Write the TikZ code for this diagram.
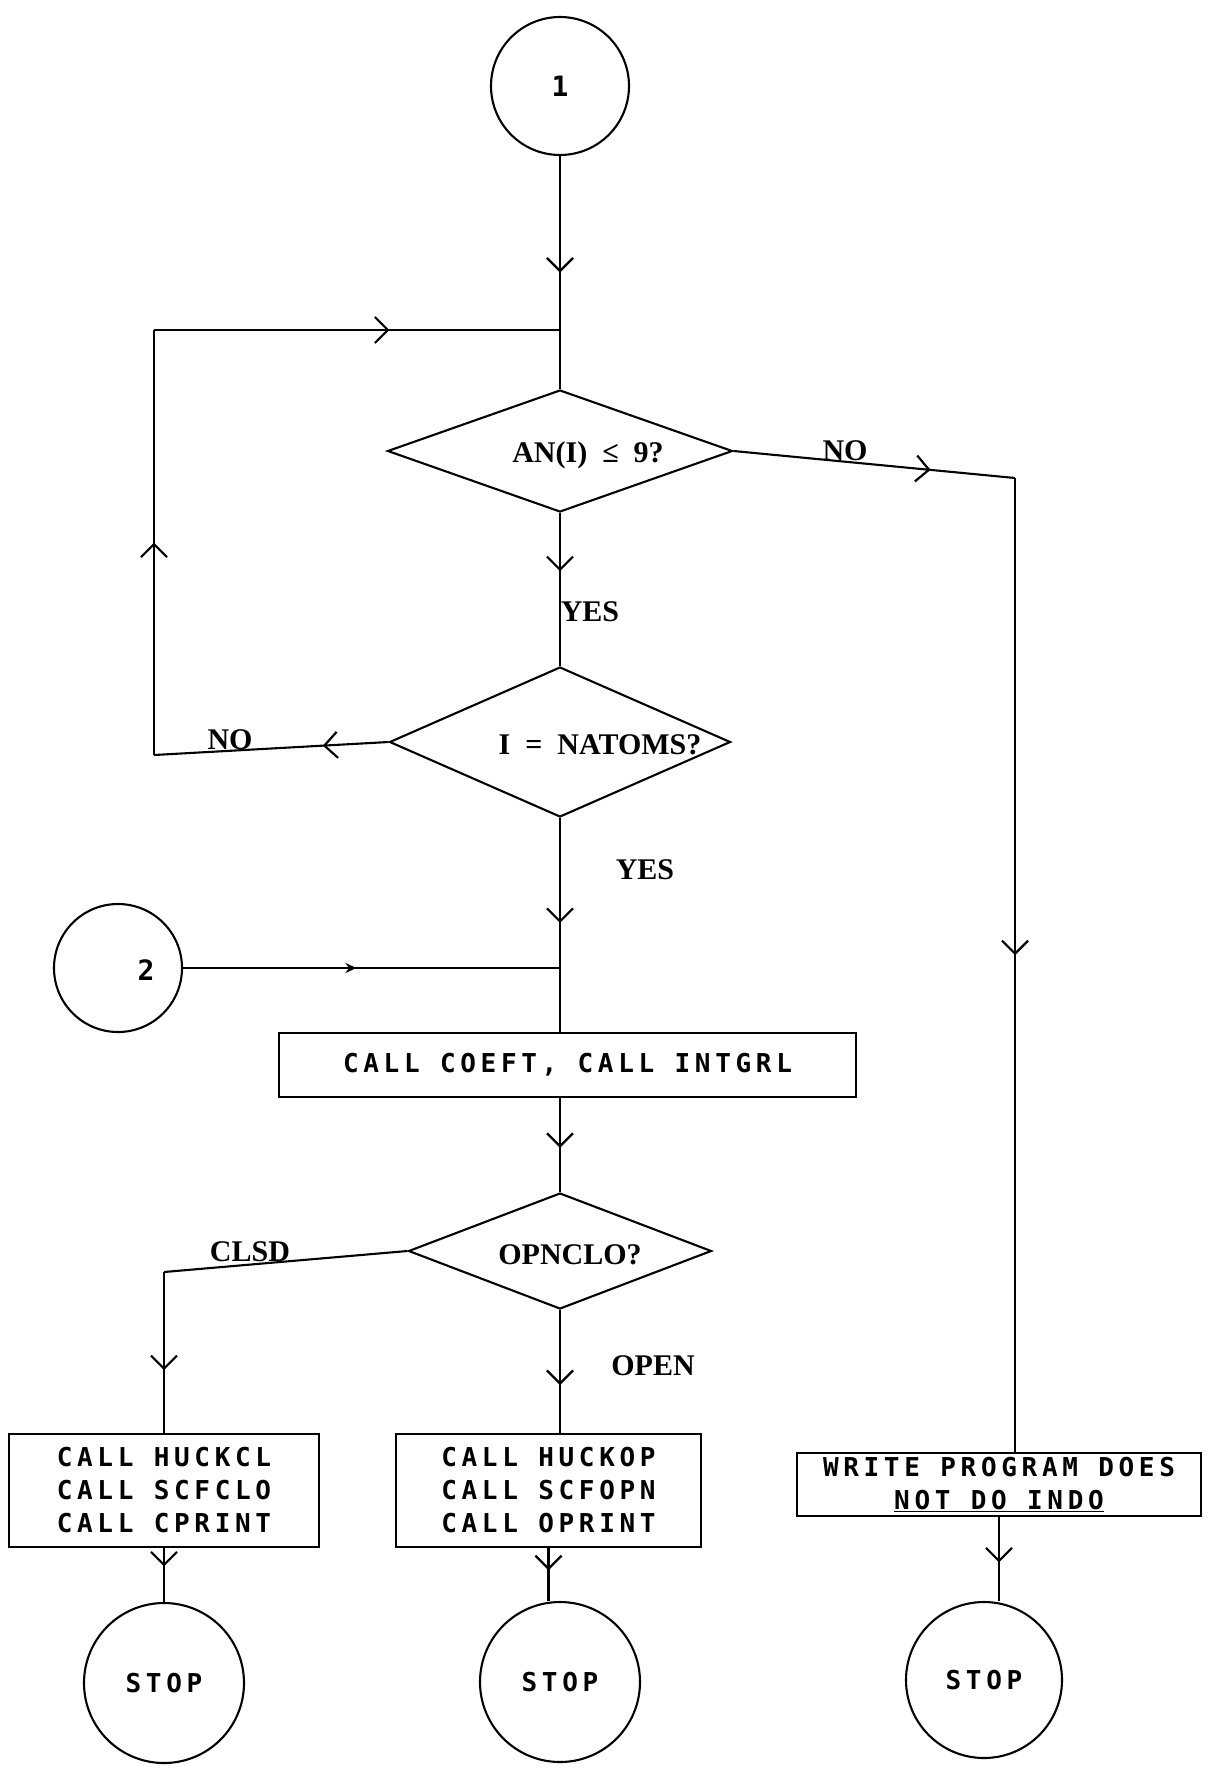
\documentclass[tikz,border=0pt]{standalone}
\usepackage{fontspec}
\usetikzlibrary{shapes.geometric,arrows.meta,decorations.markings}
\newfontfamily\labfont{Liberation Serif}
\newfontfamily\plotfont[LetterSpace=18]{DejaVu Sans Mono}
\tikzset{
  dia/.style={draw, diamond, inner sep=0pt, aspect=3},
  circ/.style={draw, circle, inner sep=0pt, font={\plotfont\bfseries\fontsize{26}{30}\selectfont}},
  ptext/.style={inner sep=0pt, font={\plotfont\bfseries\fontsize{28}{30}\selectfont}},
  pbox/.style={draw, rectangle, inner sep=0pt, align=center, font={\plotfont\bfseries\fontsize{26}{33}\selectfont}},
  lab/.style={inner sep=0pt, font={\labfont\bfseries\fontsize{30}{34}\selectfont}},
  midarrow/.style={postaction={decorate}, decoration={markings, mark=at position #1 with {\arrow{Straight Barb[length=13pt,width=26pt,line width=2.2pt]}}}},
  smallarrow/.style={postaction={decorate}, decoration={markings, mark=at position #1 with {\arrow{Stealth[length=11pt,width=10pt]}}}}
}
\begin{document}
\begin{tikzpicture}[x=1pt, y=-1pt, line width=2.1pt]
\fill[white] (0,0) rectangle (1208,1773);
\useasboundingbox (0,0) rectangle (1208,1773);

% nodes
\node[circ, minimum size=138pt, font={\plotfont\bfseries\fontsize{28}{30}\selectfont}] (c1) at (560,86) {1};
\node[dia, minimum width=345pt, minimum height=122pt] (d1) at (560,451) {};
\node[lab] (d1t) at (588,455) {AN(I)\enspace≤\enspace9?};
\node[dia, minimum width=341pt, minimum height=150pt] (d2) at (560,742) {};
\node[lab] (d2t) at (600,745) {I\enspace=\enspace NATOMS?};
\node[circ, minimum size=128pt] (c2) at (118,968) {};
\node[ptext] (c2t) at (146,970) {2};
\node[pbox, minimum width=577pt, minimum height=64pt] (b1) at (567.5,1065) {CALL COEFT, CALL INTGRL};
\node[dia, minimum width=303pt, minimum height=116pt] (d3) at (560,1251) {};
\node[lab] (d3t) at (570,1255) {OPNCLO?};
\node[pbox, minimum width=310pt, minimum height=113pt] (lb) at (164,1490.5) {CALL HUCKCL\\CALL SCFCLO\\CALL CPRINT};
\node[pbox, minimum width=305pt, minimum height=113pt] (mb) at (548.5,1490.5) {CALL HUCKOP\\CALL SCFOPN\\CALL OPRINT};
\node[pbox, minimum width=404pt, minimum height=63pt] (wb) at (999,1484.5) {WRITE PROGRAM DOES\\\underline{NOT DO INDO}};
\node[circ, minimum size=160pt] (s1) at (164,1683) {STOP};
\node[circ, minimum size=160pt] (s2) at (560,1682) {STOP};
\node[circ, minimum size=156pt] (s3) at (984,1680) {STOP};

% labels
\node[lab] (no1) at (845,451) {NO};
\node[lab] (yes1) at (590,612) {YES};
\node[lab] (no2) at (230,740) {NO};
\node[lab] (yes2) at (645,870) {YES};
\node[lab] (clsd) at (250,1252) {CLSD};
\node[lab] (open) at (653,1366) {OPEN};

% coordinates
\coordinate (lc1) at (154,755);
\coordinate (lc2) at (154,330);
\coordinate (jt) at (560,330);
\coordinate (rc) at (1015,478);
\coordinate (j2) at (560,968);
\coordinate (cl) at (164,1272);

% connectors
\draw[midarrow=0.5] (c1.south) -- (d1.north);
\draw[midarrow=0.28] (d2.west) -- (lc1);
\draw[midarrow=0.5] (lc1) -- (lc2);
\draw[midarrow=0.58] (lc2) -- (jt);
\draw[midarrow=0.70] (d1.east) -- (rc);
\draw[midarrow=0.49] (rc) -- (rc |- wb.north);
\draw[midarrow=0.38] (d1.south) -- (d2.north);
\draw[midarrow=0.49] (d2.south) -- (d2.south |- b1.north);
\draw[smallarrow=0.46] (c2.east) -- (j2);
\draw[midarrow=0.53] (d3.north |- b1.south) -- (d3.north);
\draw (d3.west) -- (cl);
\draw[midarrow=0.61] (cl) -- (lb.north);
\draw[midarrow=0.61] (d3.south) -- (d3.south |- mb.north);
\draw[midarrow=0.34] (lb.south) -- (s1.north);
\draw[midarrow=0.42] (mb.south) -- (mb.south |- s2.north);
\draw[midarrow=0.54] (wb.south) -- (wb.south |- s3.north);
\end{tikzpicture}
\end{document}
